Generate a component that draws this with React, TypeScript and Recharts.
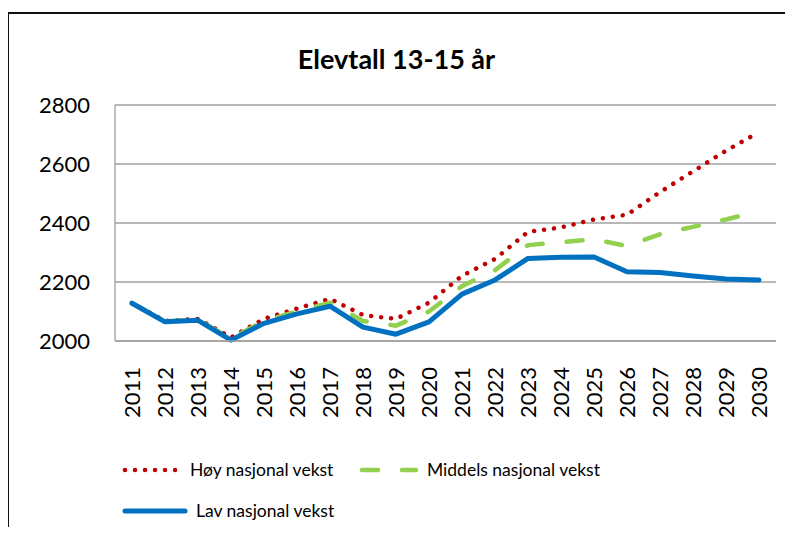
import { LineChart, Line, XAxis, YAxis, CartesianGrid } from "recharts";

const years = [
  "2011", "2012", "2013", "2014", "2015", "2016", "2017", "2018", "2019", "2020",
  "2021", "2022", "2023", "2024", "2025", "2026", "2027", "2028", "2029", "2030",
];

const hoy = [2128, 2068, 2075, 2012, 2075, 2110, 2143, 2088, 2075, 2130, 2221, 2278, 2370, 2385, 2412, 2428, 2505, 2575, 2645, 2708];
const middels = [2128, 2067, 2072, 2008, 2068, 2100, 2130, 2068, 2052, 2100, 2186, 2240, 2325, 2335, 2345, 2322, 2362, 2387, 2412, 2440];
const lav = [2128, 2065, 2070, 2003, 2060, 2092, 2118, 2047, 2023, 2065, 2159, 2207, 2280, 2284, 2285, 2235, 2232, 2220, 2210, 2207];

const yTicks = [2000, 2200, 2400, 2600, 2800];

const series = [
  { key: "hoy", name: "Høy nasjonal vekst", color: "#C00000", dash: "0.01 10", width: 4.5 },
  { key: "middels", name: "Middels nasjonal vekst", color: "#92D050", dash: "16 24", width: 4.5 },
  { key: "lav", name: "Lav nasjonal vekst", color: "#0070C0", dash: undefined as string | undefined, width: 5 },
];

const data = years.map((year, i) => ({
  year,
  hoy: hoy[i],
  middels: middels[i],
  lav: lav[i],
}));

const font = "Lato, 'Open Sans', sans-serif";

const YearTick = (props: any) => {
  const { x, y, payload } = props;
  return (
    <text
      x={x}
      y={y}
      transform={`rotate(-90, ${x}, ${y})`}
      textAnchor="end"
      dy="0.35em"
      fontSize={22}
      fill="#000"
      fontFamily={font}
    >
      {payload.value}
    </text>
  );
};

function LegendItem({ s, sampleWidth }: { s: (typeof series)[number]; sampleWidth: number }) {
  return (
    <div style={{ display: "flex", alignItems: "center" }}>
      <svg width={sampleWidth + 6} height={10} style={{ marginRight: 8 }}>
        <line
          x1={3}
          y1={5}
          x2={sampleWidth + 3}
          y2={5}
          stroke={s.color}
          strokeWidth={s.width}
          strokeDasharray={s.dash}
          strokeLinecap="round"
        />
      </svg>
      <span>{s.name}</span>
    </div>
  );
}

export default function App() {
  return (
    <div
      style={{
        position: "relative",
        width: 793,
        height: 535,
        margin: -8,
        background: "#fff",
        fontFamily: font,
      }}
    >
      <div style={{ position: "absolute", left: 0, top: 0 }}>
        <LineChart
          width={793}
          height={535}
          data={data}
          margin={{ top: 105, right: 17, bottom: 114, left: 0 }}
        >
          <CartesianGrid vertical={false} stroke="#a0a0a0" strokeWidth={1.3} />
          <XAxis
            dataKey="year"
            interval={0}
            height={80}
            padding={{ left: 17, right: 17 }}
            tickSize={0}
            tickMargin={26}
            tick={<YearTick />}
            axisLine={{ stroke: "#a0a0a0", strokeWidth: 1.3 }}
          />
          <YAxis
            domain={[2000, 2800]}
            ticks={yTicks}
            width={115}
            tickSize={0}
            tickMargin={25}
            tick={{ fontSize: 22, fill: "#000", fontFamily: font }}
            axisLine={{ stroke: "#a0a0a0", strokeWidth: 1.3 }}
          />
          {series.map((s) => (
            <Line
              key={s.key}
              type="linear"
              dataKey={s.key}
              name={s.name}
              stroke={s.color}
              strokeWidth={s.width}
              strokeDasharray={s.dash}
              strokeLinecap="round"
              strokeLinejoin="round"
              dot={false}
              isAnimationActive={false}
            />
          ))}
        </LineChart>
      </div>
      <div
        style={{
          position: "absolute",
          top: 42,
          left: 0,
          width: 793,
          textAlign: "center",
          fontWeight: "bold",
          fontSize: 27,
        }}
      >
        Elevtall 13-15 år
      </div>
      <div style={{ position: "absolute", left: 7, top: 12, width: 2, height: 523, background: "#111", zIndex: 5 }} />
      <div style={{ position: "absolute", left: 7, top: 12, width: 786, height: 1.5, background: "#111", zIndex: 5 }} />
      <div style={{ position: "absolute", left: 122, top: 459, fontSize: 17.5 }}>
        <LegendItem s={series[0]} sampleWidth={54} />
      </div>
      <div style={{ position: "absolute", left: 359, top: 459, fontSize: 17.5 }}>
        <LegendItem s={series[1]} sampleWidth={54} />
      </div>
      <div style={{ position: "absolute", left: 122, top: 500, fontSize: 17.5 }}>
        <LegendItem s={series[2]} sampleWidth={60} />
      </div>
    </div>
  );
}
